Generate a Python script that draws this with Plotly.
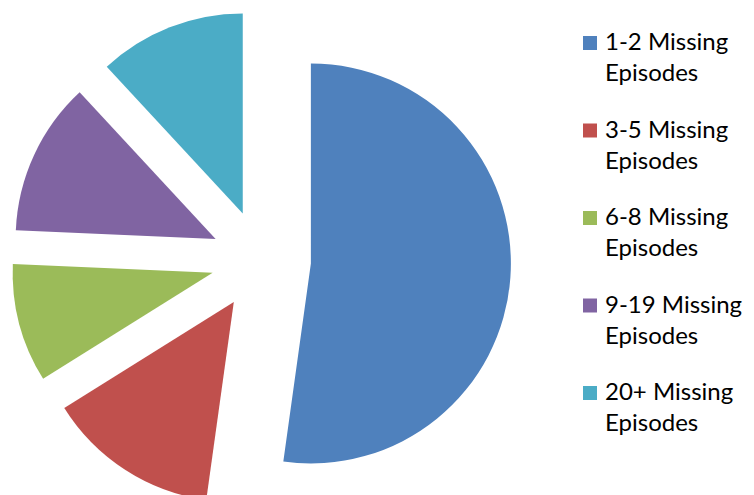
import plotly.graph_objects as go

# Share of cases by number of missing episodes
labels = ["1-2 Missing Episodes", "3-5 Missing Episodes", "6-8 Missing Episodes",
          "9-19 Missing Episodes", "20+ Missing Episodes"]
legend_text = ["1-2 Missing<br>Episodes", "3-5 Missing<br>Episodes", "6-8 Missing<br>Episodes",
               "9-19 Missing<br>Episodes", "20+ Missing<br>Episodes"]
values = [52.2, 13.9, 9.6, 12.4, 11.9]
colors = ["#4F81BD", "#C0504D", "#9BBB59", "#8064A2", "#4BACC6"]

W, H = 754, 520          # canvas; the page viewport shows the top 495 px
FONT = "Lato"


def px_x(x):
    return x / W


def px_y(y):
    return 1 - y / H


fig = go.Figure(
    go.Pie(
        labels=labels,
        values=values,
        marker=dict(colors=colors, line=dict(width=0)),
        pull=[0.25] * len(values),
        sort=False,
        direction="clockwise",
        rotation=0,
        textinfo="none",
        domain=dict(x=[px_x(11), px_x(511)], y=[0, 1]),
        showlegend=False,
    )
)

# Legend drawn as coloured squares with two-line labels on the right
item_gap = 87.5
first_center = 56
annotations = []
shapes = []
for i, (txt, col) in enumerate(zip(legend_text, colors)):
    cy = first_center + i * item_gap
    annotations.append(dict(
        x=px_x(603), y=px_y(cy), xref="paper", yref="paper",
        xanchor="left", yanchor="middle", align="left",
        text=txt, showarrow=False,
        font=dict(family=FONT, size=24, color="#000000"),
    ))
    sq_top = cy - 20
    shapes.append(dict(
        type="rect", xref="paper", yref="paper",
        x0=px_x(583), x1=px_x(597), y0=px_y(sq_top + 14), y1=px_y(sq_top),
        fillcolor=col, line=dict(width=0),
    ))

fig.update_layout(
    width=W, height=H,
    margin=dict(l=0, r=0, t=0, b=0),
    paper_bgcolor="white", plot_bgcolor="white",
    annotations=annotations, shapes=shapes,
    font=dict(family=FONT),
)

fig.write_html(
    "out.html",
    post_script="document.documentElement.style.overflow='hidden';document.body.style.overflow='hidden';",
)
